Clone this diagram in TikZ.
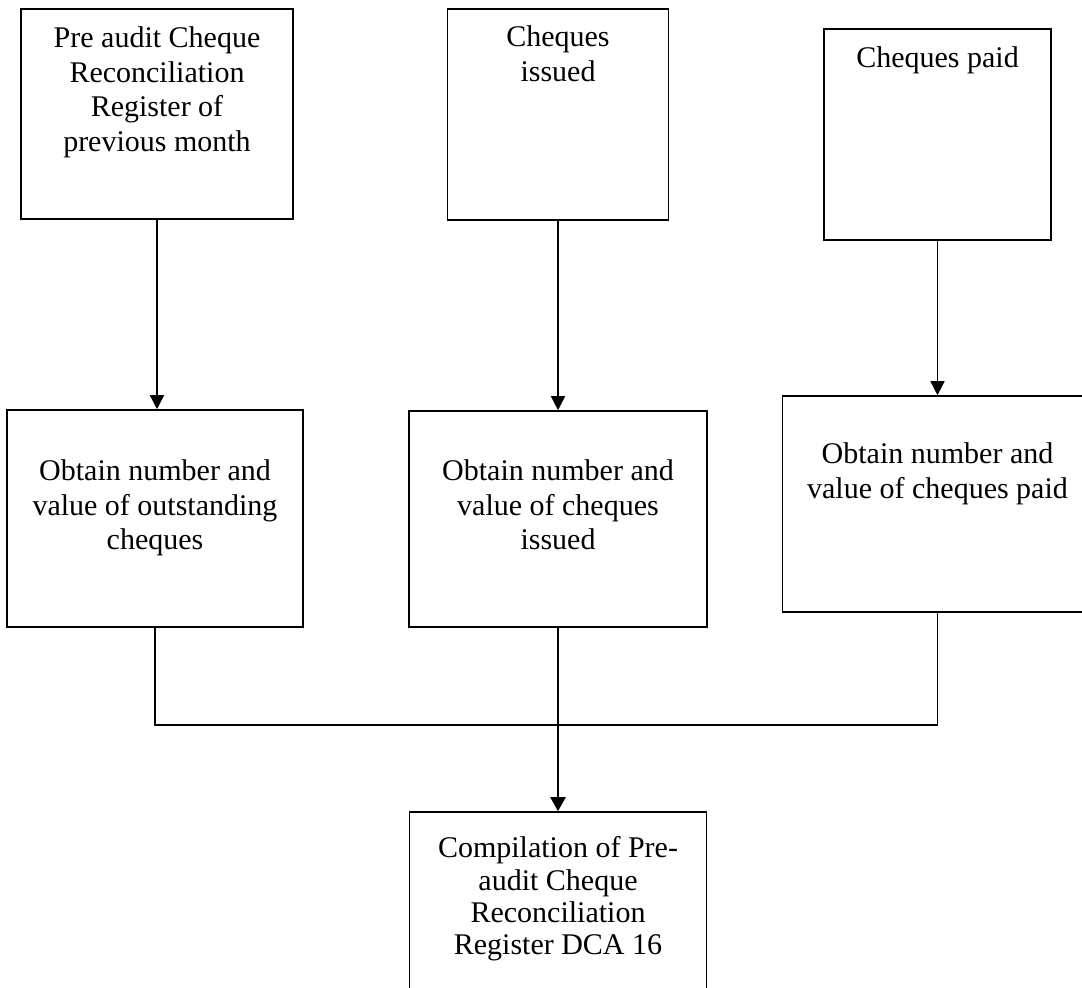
\documentclass[tikz,border=0pt]{standalone}
\usepackage{fontspec}
\setmainfont{Liberation Serif}
\usetikzlibrary{arrows.meta}

\begin{document}
\begin{tikzpicture}[
  x=1pt, y=-1pt,
  box/.style={draw, line width=1.6pt, inner sep=0pt, minimum width=#1},
  boxtext/.style={anchor=north, inner sep=0pt, align=center,
    font={\fontsize{30}{34.5}\selectfont}},
  link/.style={line width=1.5pt},
  flow/.style={line width=1.5pt, -{Triangle[length=14pt,width=14pt]}},
  mainflow/.style={line width=2.6pt, -{Triangle[length=14pt,width=15pt]}}
]
% page frame; boxes running past the edge are cut off
\clip (0,0) rectangle (1082,988);
\fill[white] (0,0) rectangle (1082,988);

% source documents
\node[box=272pt, minimum height=210pt] (b1) at (157,114) {};
\node[box=221pt, minimum height=211pt] (b2) at (558,114.5) {};
\node[box=227pt, minimum height=211pt] (b3) at (937.5,134.5) {};

% extraction steps
\node[box=296pt, minimum height=217pt] (b4) at (155,518.5) {};
\node[box=298pt, minimum height=216pt] (b5) at (558,519) {};
\node[box=310pt, minimum height=216pt] (b6) at (937.5,504) {};

% final register
\node[box=297pt, minimum height=210pt] (b7) at (558,917) {};

% box captions (first baseline about 20.5pt below each anchor)
\node[boxtext] (t1) at (157,26.5) {Pre audit Cheque\\Reconciliation\\Register of\\previous month};
\node[boxtext] (t2) at (558,25.5) {Cheques\\issued};
\node[boxtext] (t3) at (937.5,46.5) {Cheques paid};
\node[boxtext] (t4) at (155,459.5) {Obtain number and\\value of outstanding\\cheques};
\node[boxtext] (t5) at (558,459.5) {Obtain number and\\value of cheques\\issued};
\node[boxtext] (t6) at (937.5,442.5) {Obtain number and\\value of cheques paid};
\node[boxtext, font={\fontsize{30}{32.3}\selectfont}] (t7) at (558,836.5)
  {Compilation of Pre-\\audit Cheque\\Reconciliation\\Register DCA 16};

% downward arrows from the documents
\draw[flow] (b1.south) -- (b1.south |- b4.north);
\draw[flow] (b2.south) -- (b2.south |- b5.north);
\draw[flow] (b3.south) -- (b3.south |- b6.north);

% merging lines
\coordinate (j) at (558,725);
\draw[link] (b4.south) -- (b4.south |- j) -- (b6.south |- j) -- (b6.south);
\draw[link] (b5.south) -- (j);
\draw[mainflow] (j) -- (b7.north);
\end{tikzpicture}
\end{document}
